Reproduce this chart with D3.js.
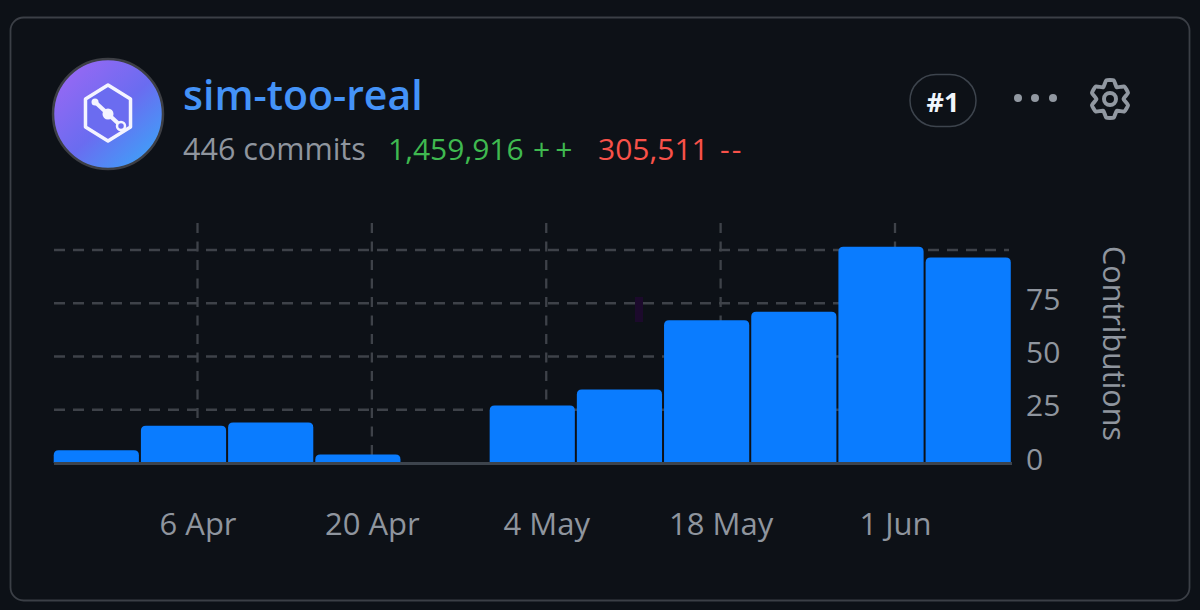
<!DOCTYPE html>
<html><head><meta charset="utf-8">
<script src="https://cdn.jsdelivr.net/npm/d3@7"></script>
<style>
html,body{margin:0;padding:0;background:#0d1117;}
svg{display:block;}
text{font-family:"Open Sans","Noto Sans",sans-serif;}
</style></head><body>
<svg id="c" width="1200" height="610"></svg>
<script>
const weekStarts=["2025-03-25T10:00Z","2025-04-01T10:00Z","2025-04-08T10:00Z","2025-04-15T10:00Z","2025-04-22T10:00Z","2025-04-29T10:00Z","2025-05-06T10:00Z","2025-05-13T10:00Z","2025-05-20T10:00Z","2025-05-27T10:00Z","2025-06-03T10:00Z"];
const contributions=[6,17.5,19,4,0,27,34.5,67,71,101.5,96.5];
const xTickDates=["2025-04-06","2025-04-20","2025-05-04","2025-05-18","2025-06-01"];
const xTickLabels=["6 Apr","20 Apr","4 May","18 May","1 Jun"];
const yTicks=[0,25,50,75];
const yGrid=[25,50,75,100];

const svg=d3.select("#c");
const defs=svg.append("defs");
const g=defs.append("linearGradient").attr("id","av").attr("x1","10%").attr("y1","5%").attr("x2","90%").attr("y2","90%");
g.append("stop").attr("offset","0%").attr("stop-color","#9a68f4");
g.append("stop").attr("offset","55%").attr("stop-color","#6a6cf0");
g.append("stop").attr("offset","100%").attr("stop-color","#3fa0f8");

svg.append("rect").attr("x",10.5).attr("y",17.5).attr("width",1179).attr("height",583).attr("rx",13)
  .attr("fill","#0d1117").attr("stroke","#3b3f46").attr("stroke-width",1.8);

// avatar
svg.append("circle").attr("cx",108).attr("cy",114).attr("r",55).attr("fill","url(#av)").attr("stroke","#3d3f45").attr("stroke-width",2.5);
const icon=svg.append("g").attr("transform","translate(108,113)");
icon.append("path").attr("d",d3.line()(d3.range(6).map(i=>{const a=Math.PI/3*i-Math.PI/2;return [26*Math.cos(a),28*Math.sin(a)];}))+"Z")
  .attr("fill","#6b6cf0").attr("stroke","#f4f4ff").attr("stroke-width",3.5).attr("stroke-linejoin","round");
icon.append("path").attr("d","M-13,-11L13,13").attr("stroke","#f4f4ff").attr("stroke-width",4);
icon.append("circle").attr("cx",-13).attr("cy",-11).attr("r",3.5).attr("fill","#f4f4ff");
icon.append("circle").attr("cx",0).attr("cy",1).attr("r",5.5).attr("fill","#f4f4ff");
icon.append("circle").attr("cx",13).attr("cy",13).attr("r",4).attr("fill","#6b6cf0").attr("stroke","#f4f4ff").attr("stroke-width",2.5);

// header text
svg.append("text").attr("x",183).attr("y",110).attr("fill","#4493f8").attr("font-size",41).attr("font-weight",600).text("sim-too-real");
svg.append("text").attr("x",183).attr("y",160).attr("fill","#8f959e").attr("font-size",30.5).text("446 commits");
svg.append("text").attr("x",388).attr("y",160).attr("fill","#3fb950").attr("font-size",30).text("1,459,916");
svg.append("text").attr("x",533).attr("y",160).attr("fill","#3fb950").attr("font-size",30).attr("letter-spacing",5).text("++");
svg.append("text").attr("x",598).attr("y",160).attr("fill","#f85149").attr("font-size",30).text("305,511");
svg.append("text").attr("x",720).attr("y",160).attr("fill","#f85149").attr("font-size",30).attr("letter-spacing",2).text("--");

// badge
svg.append("rect").attr("x",910).attr("y",74.5).attr("width",66).attr("height",52).attr("rx",26).attr("fill","none").attr("stroke","#3d444d").attr("stroke-width",1.5);
svg.append("text").attr("x",943).attr("y",112).attr("text-anchor","middle").attr("fill","#f0f6fc").attr("font-size",27).attr("font-weight",700).text("#1");
// dots
svg.selectAll("circle.dot").data([1018,1035,1053]).join("circle").attr("class","dot").attr("cx",d=>d).attr("cy",98).attr("r",4).attr("fill","#9198a1");
// gear
const gear=svg.append("g").attr("transform","translate(1110,99)").attr("fill","none").attr("stroke","#9198a1").attr("stroke-width",4).attr("stroke-linejoin","round");
const gp=[];for(let i=0;i<6;i++){const a0=Math.PI/3*i-Math.PI/2;
 gp.push([19*Math.cos(a0-.2),19*Math.sin(a0-.2)],[19*Math.cos(a0+.2),19*Math.sin(a0+.2)],[13.5*Math.cos(a0+.52),13.5*Math.sin(a0+.52)]);}
gear.append("path").attr("d",d3.line().curve(d3.curveCardinalClosed.tension(.55))(gp));
gear.append("circle").attr("r",6);

// scales
const x=d3.scaleUtc().domain([new Date("2025-04-06"),new Date("2025-06-01")]).range([197.5,895]);
const y=d3.scaleLinear().domain([0,100]).range([463,250]);

// grid
svg.append("g").selectAll("line").data(yGrid).join("line")
 .attr("x1",54).attr("x2",1009).attr("y1",d=>y(d)).attr("y2",d=>y(d)).attr("stroke","#3e4249").attr("stroke-width",2.3).attr("stroke-dasharray","11 8");
svg.append("g").selectAll("line").data(xTickDates).join("line")
 .attr("x1",d=>x(new Date(d))).attr("x2",d=>x(new Date(d))).attr("y1",223).attr("y2",463).attr("stroke","#3e4249").attr("stroke-width",2.3).attr("stroke-dasharray","10 8.5");

// stray mark present in the reference
svg.append("rect").attr("x",635).attr("y",297).attr("width",8).attr("height",25).attr("fill","#1c0a2c");

// bars
const week=7*864e5;
const barData=contributions.map((v,i)=>({v,t:new Date(weekStarts[i])})).filter(d=>d.v>0);
function barPath(d){
  const x0=x(d.t)+.5,x1=x(new Date(+d.t+week))-1.5,y0=y(0),y1=y(d.v),r=Math.min(5,y0-y1);
  const p=d3.path();p.moveTo(x0,y0);p.lineTo(x0,y1+r);p.quadraticCurveTo(x0,y1,x0+r,y1);p.lineTo(x1-r,y1);p.quadraticCurveTo(x1,y1,x1,y1+r);p.lineTo(x1,y0);p.closePath();return p.toString();
}
svg.append("g").selectAll("path").data(barData).join("path").attr("d",barPath).attr("fill","#0a7cff");

// baseline
svg.append("line").attr("x1",54).attr("x2",1012).attr("y1",y(0)+.5).attr("y2",y(0)+.5).attr("stroke","#3d444d").attr("stroke-width",3);

// axes
const xa=svg.append("g").attr("transform","translate(0,463)").call(d3.axisBottom(x).tickValues(xTickDates.map(d=>new Date(d))).tickFormat((d,i)=>xTickLabels[i]).tickSize(0));
xa.select(".domain").remove();
xa.selectAll("text").attr("y",0).attr("dy",0).attr("transform","translate(0,72)").attr("font-size",31).attr("fill","#8f959e").style("font-family",'"Open Sans","Noto Sans",sans-serif');
const ya=svg.append("g").attr("transform","translate(1026,0)").call(d3.axisRight(y).tickValues(yTicks).tickSize(0));
ya.select(".domain").remove();
ya.selectAll("text").attr("x",0).attr("dy",0).attr("transform","translate(0,6)").attr("font-size",30).attr("text-anchor","start").attr("fill","#8f959e").style("font-family",'"Open Sans","Noto Sans",sans-serif');
svg.append("text").attr("transform","translate(1103,343.5) rotate(90)").attr("text-anchor","middle").attr("fill","#8f959e").attr("font-size",30.5).text("Contributions");
</script>
</body></html>
